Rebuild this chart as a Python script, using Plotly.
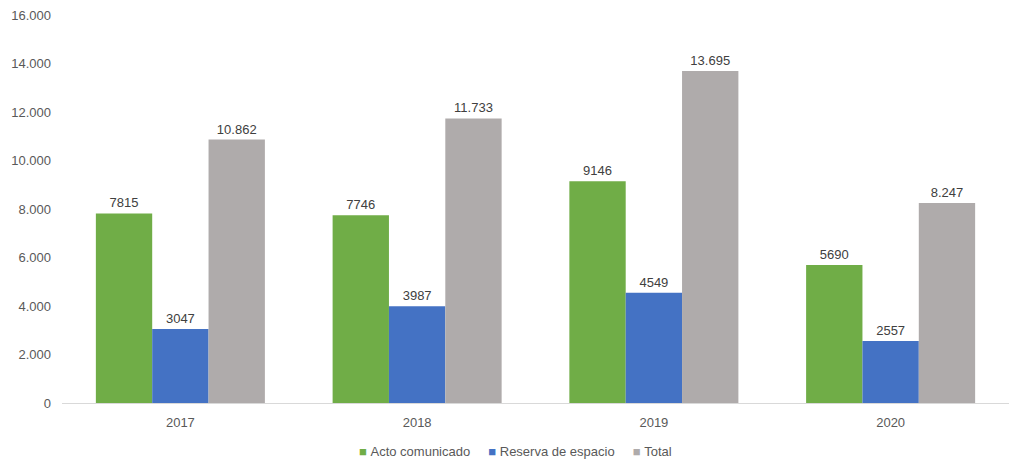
import plotly.graph_objects as go

years = ["2017", "2018", "2019", "2020"]
acto = [7815, 7746, 9146, 5690]
reserva = [3047, 3987, 4549, 2557]
total = [10862, 11733, 13695, 8247]

acto_labels = ["7815", "7746", "9146", "5690"]
reserva_labels = ["3047", "3987", "4549", "2557"]
total_labels = ["10.862", "11.733", "13.695", "8.247"]

series_names = ["Acto comunicado", "Reserva de espacio", "Total"]
series_colors = ["#70AD47", "#4472C4", "#AFABAB"]

tick_vals = [0, 2000, 4000, 6000, 8000, 10000, 12000, 14000, 16000]
tick_text = ["0", "2.000", "4.000", "6.000", "8.000", "10.000", "12.000", "14.000", "16.000"]

FONT = "Liberation Sans, Arial, sans-serif"
TEXT_COL = "#595959"

# the page body has an 8px margin, so the figure is sized to fit inside it
W, H = 1008, 457
ML, MR, MT, MB = 54, 7, 7, 62
PW, PH = W - ML - MR, H - MT - MB

fig = go.Figure()
for name, vals, labels, color in zip(series_names, [acto, reserva, total],
                                     [acto_labels, reserva_labels, total_labels],
                                     series_colors):
    fig.add_trace(go.Bar(
        x=years, y=vals, name=name,
        marker=dict(color=color, line=dict(width=0)),
        text=labels, textposition="outside",
        textfont=dict(size=13, color="#404040", family=FONT),
        cliponaxis=False,
        showlegend=False,
    ))

fig.update_layout(
    width=W, height=H,
    barmode="group", bargap=0.286, bargroupgap=0,
    plot_bgcolor="white", paper_bgcolor="white",
    margin=dict(l=ML, r=MR, t=MT, b=MB, autoexpand=False),
    font=dict(family=FONT, size=13, color=TEXT_COL),
    xaxis=dict(
        showline=True, linecolor="#D9D9D9", linewidth=1,
        ticks="", tickfont=dict(size=13, color=TEXT_COL),
        ticklabelstandoff=7, automargin=False,
    ),
    yaxis=dict(
        range=[0, 16000], tickvals=tick_vals, ticktext=tick_text,
        showgrid=False, zeroline=False, showline=False,
        ticks="", tickfont=dict(size=13, color=TEXT_COL),
        ticklabelstandoff=10, automargin=False,
        ticklabeloverflow="allow",
    ),
    uniformtext=dict(mode=False),
)

# legend drawn as a single centred line of text
gap = "&nbsp;" * 5
legend_text = gap.join(
    f"<span style='color:{c}'>■</span>&nbsp;{n}" for n, c in zip(series_names, series_colors)
)
fig.add_annotation(
    xref="paper", yref="paper", x=(507 - ML) / PW, y=-48 / PH,
    text=legend_text, showarrow=False, xanchor="center", yanchor="middle",
    font=dict(size=13, color=TEXT_COL, family=FONT),
)

fig.write_html("out.html")
